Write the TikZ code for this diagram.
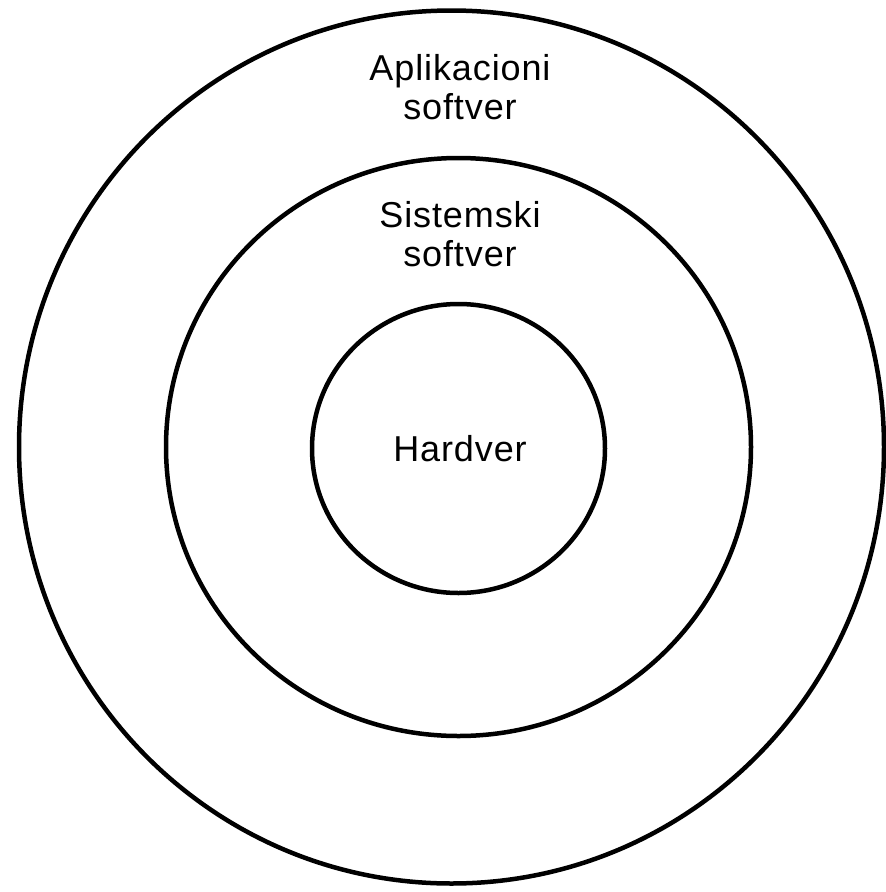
\documentclass[tikz,border=0pt]{standalone}
\usepackage{fontspec}
\setmainfont[LetterSpace=2.5]{Liberation Sans}
\begin{document}
\begin{tikzpicture}[x=1pt, y=-1pt,
  ring/.style={line width=4.5pt},
  label/.style={font=\fontsize{36}{39}\selectfont, align=center, inner sep=0pt}]
  \useasboundingbox (0,0) rectangle (886,892);
  \coordinate (C0) at (451.5,447);
  \coordinate (C1) at (458.5,447);
  \coordinate (C2) at (458.5,448.5);
  \draw[ring] (C0) ellipse [x radius=432.5, y radius=436.5];
  \draw[ring] (C1) ellipse [x radius=292.5, y radius=289];
  \draw[ring] (C2) ellipse [x radius=146.5, y radius=144.5];
  \node[label] (app) at (460,87) {Aplikacioni\\softver};
  \node[label] (sys) at (460,234) {Sistemski\\softver};
  \node[label] (hw) at (460,449) {Hardver};
\end{tikzpicture}
\end{document}
